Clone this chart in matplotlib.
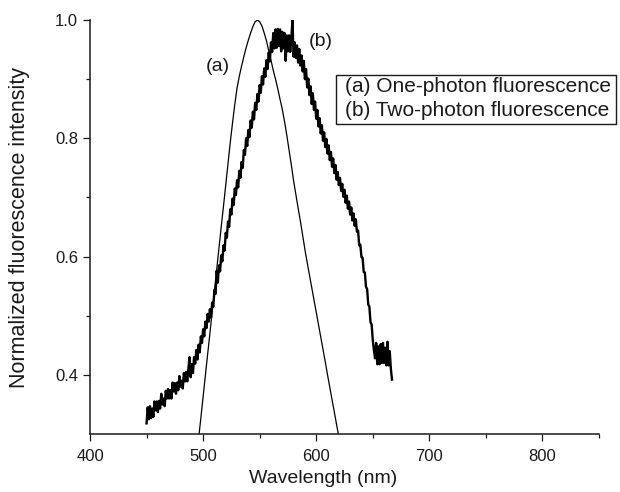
import matplotlib
matplotlib.use("Agg")
import matplotlib.pyplot as plt
from matplotlib.patches import Rectangle
from matplotlib.ticker import FixedLocator

plt.rcParams['font.family'] = ['Liberation Sans', 'DejaVu Sans']

# (a) one-photon fluorescence (smooth)
wl_a = [496, 498, 500, 502, 504, 506, 508, 510, 512, 514, 516, 518, 520, 522, 524,
        526, 528, 530, 532, 534, 536, 538, 540, 542, 544, 546, 548, 550, 552, 554,
        556, 558, 560, 562, 564, 566, 568, 570, 572, 574, 576, 578, 580, 582, 584,
        586, 588, 590, 592, 594, 596, 598, 600, 602, 604, 606, 608, 610, 612, 614,
        616, 618, 620]
int_a = [0.292, 0.327, 0.363, 0.399, 0.435, 0.470, 0.506, 0.542, 0.578, 0.614, 0.650,
         0.685, 0.721, 0.757, 0.793, 0.826, 0.857, 0.885, 0.905, 0.922, 0.938, 0.953,
         0.966, 0.978, 0.989, 0.997, 1.000, 0.997, 0.990, 0.978, 0.965, 0.948, 0.932,
         0.915, 0.900, 0.884, 0.866, 0.849, 0.828, 0.805, 0.780, 0.755, 0.728, 0.705,
         0.682, 0.660, 0.636, 0.612, 0.590, 0.569, 0.548, 0.527, 0.506, 0.485, 0.464,
         0.443, 0.422, 0.400, 0.379, 0.358, 0.337, 0.316, 0.295]

# (b) two-photon fluorescence (noisy), one value per nm from 450 to 667 nm
wl_b_start = 450
int_b = [
    # 450-469
    0.318, 0.345, 0.325, 0.347, 0.327, 0.343, 0.329, 0.355, 0.340, 0.355,
    0.337, 0.356, 0.343, 0.368, 0.350, 0.360, 0.347, 0.373, 0.360, 0.376,
    # 470-489
    0.360, 0.374, 0.360, 0.387, 0.372, 0.386, 0.368, 0.387, 0.374, 0.398,
    0.380, 0.390, 0.377, 0.403, 0.389, 0.405, 0.389, 0.411, 0.430, 0.396,
    # 490-509
    0.418, 0.403, 0.430, 0.419, 0.442, 0.426, 0.451, 0.438, 0.465, 0.454,
    0.477, 0.465, 0.490, 0.479, 0.503, 0.490, 0.511, 0.497, 0.522, 0.515,
    # 510-529
    0.544, 0.537, 0.576, 0.556, 0.585, 0.575, 0.602, 0.592, 0.619, 0.610,
    0.640, 0.632, 0.659, 0.650, 0.680, 0.671, 0.698, 0.687, 0.715, 0.704,
    # 530-549
    0.729, 0.717, 0.745, 0.733, 0.760, 0.750, 0.780, 0.772, 0.800, 0.787,
    0.814, 0.802, 0.830, 0.818, 0.845, 0.832, 0.860, 0.848, 0.875, 0.862,
    # 550-569
    0.890, 0.877, 0.905, 0.891, 0.918, 0.904, 0.932, 0.917, 0.945, 0.930,
    0.962, 0.946, 0.978, 0.952, 0.984, 0.953, 0.985, 0.956, 0.984, 0.947,
    # 570-589
    0.980, 0.952, 0.978, 0.931, 0.974, 0.947, 0.974, 0.946, 0.969, 1.000,
    0.938, 0.962, 0.936, 0.957, 0.928, 0.951, 0.923, 0.940, 0.913, 0.931,
    # 590-609
    0.900, 0.917, 0.886, 0.901, 0.873, 0.888, 0.858, 0.876, 0.848, 0.862,
    0.833, 0.848, 0.820, 0.834, 0.808, 0.822, 0.796, 0.810, 0.785, 0.799,
    # 610-629
    0.774, 0.788, 0.763, 0.777, 0.752, 0.766, 0.741, 0.755, 0.730, 0.743,
    0.721, 0.733, 0.711, 0.723, 0.701, 0.713, 0.691, 0.703, 0.681, 0.693,
    # 630-649
    0.671, 0.683, 0.661, 0.673, 0.652, 0.663, 0.642, 0.644, 0.619, 0.620,
    0.599, 0.598, 0.574, 0.573, 0.549, 0.545, 0.519, 0.515, 0.489, 0.485,
    # 650-667
    0.459, 0.442, 0.428, 0.454, 0.418, 0.448, 0.418, 0.452, 0.420, 0.454,
    0.420, 0.446, 0.416, 0.456, 0.416, 0.440, 0.410, 0.392,
]
wl_b = [wl_b_start + i for i in range(len(int_b))]

x_ticks = [400, 500, 600, 700, 800]
y_ticks = [0.4, 0.6, 0.8, 1.0]
legend_labels = ["(a) One-photon fluorescence", "(b) Two-photon fluorescence"]

W, H = 620, 492
fig = plt.figure(figsize=(6.2, 4.92), dpi=100)
ax = fig.add_axes([90 / W, 1 - 434 / H, (599 - 90) / W, (434 - 20) / H])

ink = '#1a1a1a'
ax.plot(wl_a, int_a, color='black', lw=0.9)
ax.plot(wl_b, int_b, color='black', lw=1.7)

ax.set_xlim(400, 850)
ax.set_ylim(0.3, 1.0)
ax.xaxis.set_major_locator(FixedLocator(x_ticks))
ax.xaxis.set_minor_locator(FixedLocator([450, 550, 650, 750, 850]))
ax.yaxis.set_major_locator(FixedLocator(y_ticks))
ax.yaxis.set_minor_locator(FixedLocator([0.5, 0.7, 0.9]))
ax.set_xticklabels([str(v) for v in x_ticks])
ax.set_yticklabels([f"{v:.1f}" for v in y_ticks])

for s in ['top', 'right']:
    ax.spines[s].set_visible(False)
for s in ['left', 'bottom']:
    ax.spines[s].set_linewidth(1.1)
    ax.spines[s].set_color(ink)

ax.tick_params(axis='both', which='major', direction='out', length=5, width=0.9,
               colors=ink, labelsize=12)
ax.tick_params(axis='both', which='minor', direction='out', length=3, width=0.9,
               colors=ink)
ax.tick_params(axis='x', which='major', pad=6)
ax.tick_params(axis='y', which='major', pad=3.5)

ax.set_xlabel("Wavelength (nm)", fontsize=14, color=ink)
ax.xaxis.set_label_coords((323.5 - 90) / 509, (434 - 470) / 414)
ax.set_ylabel("Normalized fluorescence intensity", fontsize=15.5, color=ink)
ax.yaxis.set_label_coords((30 - 90) / 509, 0.5)

# curve annotations
ax.text(524, 0.922, "(a)", fontsize=14, color=ink, ha='right', va='center')
ax.text(593, 0.963, "(b)", fontsize=14, color=ink, ha='left', va='center')

# legend box
fig.add_artist(Rectangle((336 / W, 1 - 124 / H), 280 / W, 49 / H,
                         transform=fig.transFigure, fill=False, lw=1.0, ec=ink))
fig.text(345 / W, 1 - 87 / H, legend_labels[0], fontsize=15, color=ink,
         ha='left', va='center')
fig.text(345 / W, 1 - 110 / H, legend_labels[1], fontsize=15, color=ink,
         ha='left', va='center')

fig.savefig("out.png", dpi=100)
